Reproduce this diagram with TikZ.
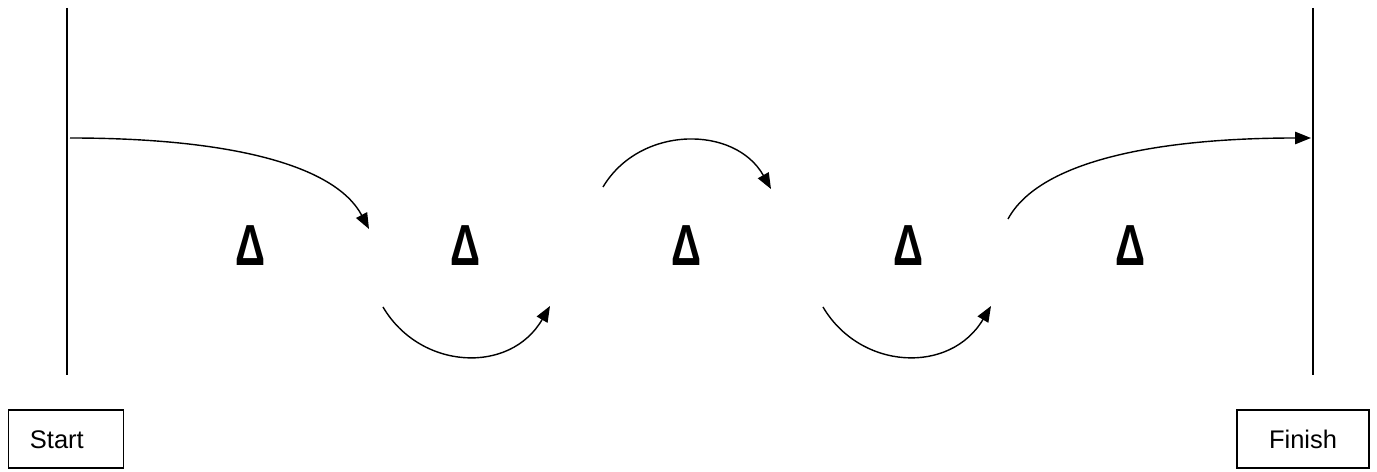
\documentclass[tikz,border=0pt]{standalone}
\usepackage{fontspec}
\setmainfont{Liberation Sans}
\setsansfont{Liberation Sans}
\usetikzlibrary{arrows.meta,positioning}

\begin{document}
\begin{tikzpicture}[
    x=0.02cm, y=-0.02cm,
    font=\sffamily,
    lane/.style={line width=1pt, black},
    endbox/.style={draw, line width=0.8pt, minimum height=32.9pt,
                   font=\sffamily\fontsize{14.5}{16}\selectfont, inner sep=0pt,
                   text height=10.5pt, text depth=0pt},
    delta/.style={font=\sffamily\bfseries\fontsize{33}{36}\selectfont,
                  xscale=0.72, inner sep=0pt},
    hop/.style={-{Triangle[length=9pt, width=7pt]}, line width=0.8pt}
]
\useasboundingbox (0,0) rectangle (1377,472);

% side lines
\coordinate (ltop) at (67,8);
\coordinate (lbot) at (67,375);
\coordinate (rtop) at (1313,8);
\coordinate (rbot) at (1313,375);
\draw[lane] (ltop) -- (lbot);
\draw[lane] (rtop) -- (rbot);

% start / finish boxes
\node[endbox, minimum width=65.7pt, text width=59pt] (start) at (66,439) {\hspace*{9pt}Start};
\node[endbox, minimum width=75pt] (finish) at (1303,439) {Finish};

% the five deltas
\foreach \name/\xx in {d1/251, d2/465, d3/686, d4/908, d5/1130}
    \node[delta] (\name) at (\xx,246) {Δ};

% arrow ends
\coordinate (a0) at (70,138);
\coordinate (a1) at (369,229);
\coordinate (b0) at (383,307);
\coordinate (b1) at (550,306);
\coordinate (c0) at (603,187);
\coordinate (c1) at (771,189);
\coordinate (e0) at (823,307);
\coordinate (e1) at (991,306);
\coordinate (f0) at (1008,219);
\coordinate (f1) at (1311,138);

% hops
\draw[hop] (a0) .. controls (230,138) and (335,165) .. (a1);
\draw[hop] (b0) .. controls (420,370) and (510,375) .. (b1);
\draw[hop] (c0) .. controls (640,125) and (735,125) .. (c1);
\draw[hop] (e0) .. controls (860,370) and (950,375) .. (e1);
\draw[hop] (f0) .. controls (1040,160) and (1160,138) .. (f1);
\end{tikzpicture}
\end{document}
